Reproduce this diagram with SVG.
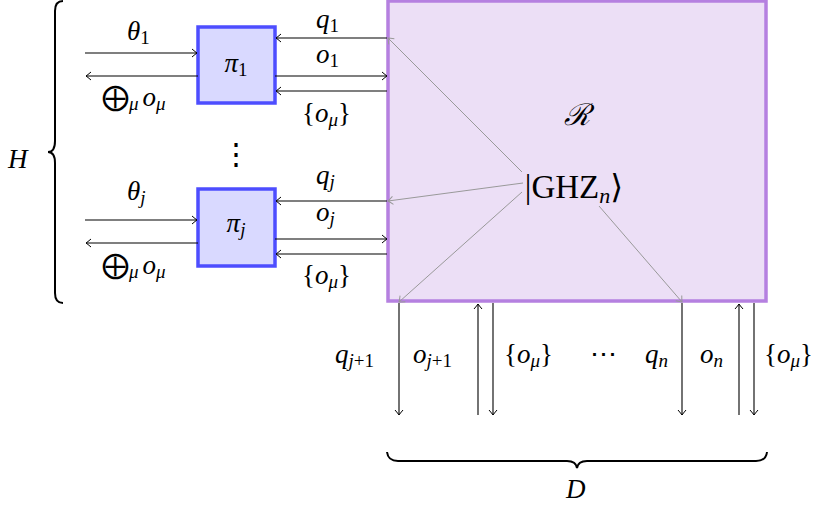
<svg xmlns="http://www.w3.org/2000/svg" width="823" height="506" viewBox="0 0 823 506">
<defs>
<marker id="ah" viewBox="-6 -5 7 10" refX="0" refY="0" markerWidth="7" markerHeight="10" markerUnits="userSpaceOnUse" orient="auto">
<path d="M-5,-4 Q-1.5,-1 0,0 Q-1.5,1 -5,4" fill="none" stroke="#000" stroke-width="1"/>
</marker>
<marker id="ahg" viewBox="-6 -5 7 10" refX="0" refY="0" markerWidth="7" markerHeight="10" markerUnits="userSpaceOnUse" orient="auto">
<path d="M-5,-4 Q-1.5,-1 0,0 Q-1.5,1 -5,4" fill="none" stroke="#999" stroke-width="1"/>
</marker>
</defs>
<style>
.m{font-family:"Liberation Serif","DejaVu Serif",serif;font-style:italic;font-size:27px;fill:#000}
.r{font-family:"Liberation Serif","DejaVu Serif",serif;font-style:normal;font-size:27px;fill:#000}
.s{font-size:19px}
.a{stroke:#000;stroke-width:1.1;fill:none;marker-end:url(#ah)}
.g{stroke:#999;stroke-width:1;fill:none;marker-end:url(#ahg)}
.box{fill:#d9d9ff;stroke:#4d4dff;stroke-width:3.5}
.brace{fill:none;stroke:#000;stroke-width:2}
</style>
<g id="R">
<rect x="388" y="1" width="378" height="300" fill="#ecdff6" stroke="#b580e0" stroke-width="3.5"/>
<text class="m" x="577" y="125" text-anchor="middle" style="font-family:'DejaVu Serif',serif;font-size:30px">ℛ</text>
<text class="r" x="574" y="198" text-anchor="middle" style="font-size:33px">|GHZ<tspan class="m" dy="5" style="font-size:22px">n</tspan><tspan dy="-5">⟩</tspan></text>
</g>
<g id="pi1">
<rect class="box" x="198" y="27" width="77" height="76"/>
<text class="m" x="236" y="72" text-anchor="middle">π<tspan class="r s" dy="4">1</tspan></text>
</g>
<g id="pij">
<rect class="box" x="198" y="189" width="77" height="77"/>
<text class="m" x="236" y="232" text-anchor="middle">π<tspan class="s" dy="4">j</tspan></text>
</g>
<g id="connectors">
<line class="a" x1="85" y1="53" x2="197" y2="53"/>
<line class="a" x1="198" y1="76" x2="86" y2="76"/>
<line class="a" x1="387" y1="38" x2="276" y2="38"/>
<line class="a" x1="275" y1="76" x2="387" y2="76"/>
<line class="a" x1="387" y1="91" x2="276" y2="91"/>
<line class="a" x1="85" y1="220" x2="197" y2="220"/>
<line class="a" x1="198" y1="243" x2="86" y2="243"/>
<line class="a" x1="387" y1="201" x2="276" y2="201"/>
<line class="a" x1="275" y1="239" x2="387" y2="239"/>
<line class="a" x1="387" y1="254" x2="276" y2="254"/>
<line class="a" x1="399" y1="303" x2="399" y2="415"/>
<line class="a" x1="478" y1="415" x2="478" y2="304"/>
<line class="a" x1="493" y1="303" x2="493" y2="415"/>
<line class="a" x1="682" y1="303" x2="682" y2="415"/>
<line class="a" x1="739" y1="415" x2="739" y2="304"/>
<line class="a" x1="754" y1="303" x2="754" y2="415"/>
<line class="g" x1="522" y1="172" x2="388" y2="38"/>
<line class="g" x1="523" y1="183" x2="388" y2="201"/>
<line class="g" x1="522" y1="192" x2="399" y2="302"/>
<line class="g" x1="599" y1="206" x2="682" y2="302"/>
</g>
<g id="labels">
<text class="m" x="127" y="40">θ<tspan class="r s" dy="4">1</tspan></text>
<text class="r" x="102" y="106"><tspan style="font-family:'DejaVu Sans',sans-serif;font-size:27px">⨁</tspan><tspan class="m s" dy="4">μ</tspan><tspan class="m" dx="4" dy="-4">o</tspan><tspan class="m s" dy="4">μ</tspan></text>
<text class="m" x="316" y="28">q<tspan class="r s" dy="4">1</tspan></text>
<text class="m" x="316" y="63">o<tspan class="r s" dy="4">1</tspan></text>
<text class="r" x="302" y="122">{<tspan class="m">o</tspan><tspan class="m s" dy="4">μ</tspan><tspan dy="-4">}</tspan></text>
<text class="r" x="236" y="164" text-anchor="middle" style="font-size:30px">⋮</text>
<text class="m" x="127" y="200">θ<tspan class="s" dy="4">j</tspan></text>
<text class="r" x="102" y="274"><tspan style="font-family:'DejaVu Sans',sans-serif;font-size:27px">⨁</tspan><tspan class="m s" dy="4">μ</tspan><tspan class="m" dx="4" dy="-4">o</tspan><tspan class="m s" dy="4">μ</tspan></text>
<text class="m" x="316" y="184">q<tspan class="s" dy="4">j</tspan></text>
<text class="m" x="316" y="221">o<tspan class="s" dy="4">j</tspan></text>
<text class="r" x="302" y="284">{<tspan class="m">o</tspan><tspan class="m s" dy="4">μ</tspan><tspan dy="-4">}</tspan></text>
<text class="m" x="335" y="363">q<tspan class="s" dy="4">j</tspan><tspan class="r s">+1</tspan></text>
<text class="m" x="413" y="363">o<tspan class="s" dy="4">j</tspan><tspan class="r s">+1</tspan></text>
<text class="r" x="504" y="363">{<tspan class="m">o</tspan><tspan class="m s" dy="4">μ</tspan><tspan dy="-4">}</tspan></text>
<text class="r" x="603" y="363" text-anchor="middle">⋯</text>
<text class="m" x="645" y="363">q<tspan class="s" dy="4">n</tspan></text>
<text class="m" x="700" y="363">o<tspan class="s" dy="4">n</tspan></text>
<text class="r" x="764" y="363">{<tspan class="m">o</tspan><tspan class="m s" dy="4">μ</tspan><tspan dy="-4">}</tspan></text>
</g>
<g id="H">
<path class="brace" d="M63,1 Q55,1 55,11 L55,141 Q55,152 48,152 Q55,152 55,163 L55,293 Q55,303 63,303"/>
<text class="m" x="8" y="168">H</text>
</g>
<g id="D">
<path class="brace" d="M387,452 Q388,461 398,461 L567,461 Q576,461 577,468 Q578,461 587,461 L756,461 Q766,461 767,452"/>
<text class="m" x="566" y="498">D</text>
</g>
</svg>
